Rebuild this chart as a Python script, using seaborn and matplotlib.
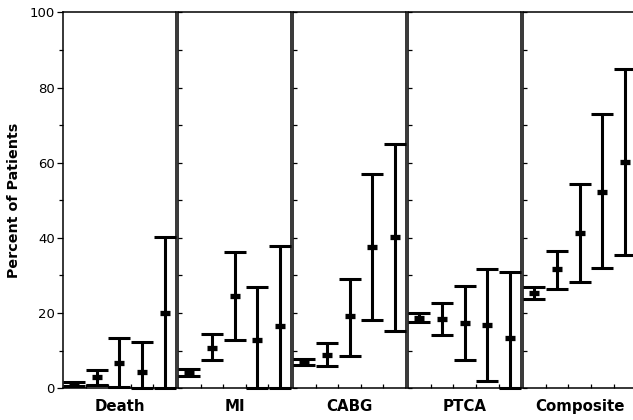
import numpy as np
import pandas as pd
import matplotlib
matplotlib.use("Agg")
import matplotlib.pyplot as plt
import seaborn as sns

# ---- data ----
categories = ["Death", "MI", "CABG", "PTCA", "Composite"]
groups = [1, 2, 3, 4, 5]
mid_vals = {
    "Death":     [1.2, 2.9, 6.8, 4.2, 19.9],
    "MI":        [4.2, 10.8, 24.6, 12.9, 16.6],
    "CABG":      [7.1, 8.9, 19.1, 37.7, 40.2],
    "PTCA":      [18.6, 18.4, 17.3, 16.8, 13.5],
    "Composite": [25.3, 31.6, 41.2, 52.3, 60.3],
}
low_vals = {
    "Death":     [0.6, 1.0, 0.3, 0.0, 0.0],
    "MI":        [3.3, 7.5, 12.9, 0.0, 0.0],
    "CABG":      [6.2, 5.8, 8.7, 18.2, 15.2],
    "PTCA":      [17.5, 14.2, 7.5, 2.0, 0.0],
    "Composite": [23.8, 26.4, 28.3, 32.1, 35.5],
}
high_vals = {
    "Death":     [1.8, 4.8, 13.3, 12.2, 40.2],
    "MI":        [5.1, 14.4, 36.2, 26.9, 37.9],
    "CABG":      [7.8, 12.0, 29.2, 57.0, 65.0],
    "PTCA":      [19.9, 22.6, 27.2, 31.8, 30.8],
    "Composite": [26.9, 36.6, 54.3, 72.9, 84.9],
}
y_ticks = [0, 20, 40, 60, 80, 100]
y_label = "Percent of Patients"

rows = []
for c in categories:
    for i, g in enumerate(groups):
        rows.append({"cat": c, "pos": i, "mid": mid_vals[c][i],
                     "low": low_vals[c][i], "high": high_vals[c][i]})
df = pd.DataFrame(rows)

sns.set_style("ticks")
plt.rcParams["font.family"] = ["DejaVu Sans"]
plt.rcParams["text.color"] = "black"
plt.rcParams["axes.labelcolor"] = "black"
plt.rcParams["xtick.color"] = "black"
plt.rcParams["ytick.color"] = "black"

fig = plt.figure(figsize=(6.33, 4.2), dpi=100)
gs = fig.add_gridspec(1, 5, left=0.0995, right=1.005, bottom=0.0755,
                      top=0.9707, wspace=0.018)

for k, c in enumerate(categories):
    ax = fig.add_subplot(gs[0, k])
    d = df[df["cat"] == c]
    ax.errorbar(d["pos"], d["mid"],
                yerr=[d["mid"] - d["low"], d["high"] - d["mid"]],
                fmt="none", ecolor="black", elinewidth=2.2,
                capsize=7.8, capthick=2.2, clip_on=False, zorder=3)
    sns.scatterplot(data=d, x="pos", y="mid", ax=ax, marker="_", s=50,
                    color="black", linewidth=3.8, zorder=4, legend=False)
    ax.set_xlim(-0.5, 4.5)
    ax.set_ylim(0, 100)
    ax.set_xticks([0.5, 1.5, 2.5, 3.5])
    ax.set_xticklabels([])
    ax.tick_params(axis="x", direction="in", length=3, width=0.9,
                   color="black")
    ax.set_xlabel(c, fontsize=10.8, fontweight="bold", labelpad=4,
                  color="black")
    ax.set_ylabel("")
    for sp in ax.spines.values():
        sp.set_visible(True)
        sp.set_linewidth(1.1)
        sp.set_color("black")
    if k == 0:
        ax.set_yticks(y_ticks)
        ax.set_yticks(np.arange(10, 100, 20), minor=True)
        ax.tick_params(axis="y", which="major", direction="out", length=4,
                       width=0.9, labelsize=9.5, pad=2, color="black",
                       labelcolor="black")
        ax.tick_params(axis="y", which="minor", direction="out", length=3,
                       width=0.9, color="black")
        ax.set_ylabel(y_label, fontsize=10.3, fontweight="bold", labelpad=6,
                      color="black")
    else:
        ax.set_yticks(np.arange(0, 101, 10))
        ax.set_yticklabels([])
        ax.tick_params(axis="y", direction="in", length=3, width=0.9,
                       color="black")

fig.savefig("out.png", dpi=100)
